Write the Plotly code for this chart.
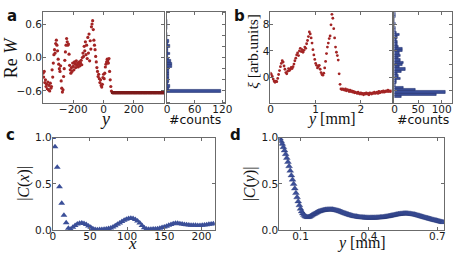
import numpy as np
import plotly.graph_objects as go

W, H = 463, 259

# ---------------- panel a data ----------------
a_x = list(range(-400, 56, 4))
a_y = [
    -0.28, -0.35, -0.25, -0.45, -0.40, -0.52, -0.48, -0.56, -0.44, -0.58,
    -0.50, -0.60, -0.46, -0.55, -0.52, -0.22, -0.35, -0.10, 0.05, 0.14,
    0.08, 0.25, 0.31, 0.22, 0.12, -0.03, -0.12, -0.20, -0.25, -0.15,
    -0.42, -0.55, -0.62, -0.58, -0.34, -0.20, -0.05, 0.10, 0.22, 0.34,
    0.28, 0.22, 0.24, 0.06, -0.14, -0.22, -0.28, -0.18, -0.25, -0.10,
    -0.16, -0.22, -0.08, -0.12, -0.18, -0.06, -0.14, -0.10, -0.17, -0.12,
    -0.08, -0.15, -0.10, -0.05, -0.13, 0.00, 0.08, 0.02, 0.20, 0.12,
    0.28, 0.05, 0.22, -0.02, 0.36, 0.08, 0.42, -0.06, 0.30, 0.15,
    0.55, 0.60, 0.66, 0.50, 0.31, 0.22, 0.14, 0.02, -0.08, -0.18,
    -0.25, -0.34, -0.30, -0.38, -0.45, -0.40, -0.50, -0.53, -0.48, -0.36,
    -0.30, -0.38, -0.28, -0.17, -0.12, -0.08, -0.03, -0.06, -0.10, -0.02,
    -0.25, -0.40, -0.52, -0.60,
]
a_tail_x = list(range(58, 401, 3))
a_tail_level = -0.63
a_tail_y = [a_tail_level] * len(a_tail_x)

a_xticks = [-200, 0, 200]
a_xticktext = ["\u2212200", "0", "200"]
a_yticks = [-0.6, 0.0, 0.6]
a_yticktext = ["\u22120.6", "0.0", "0.6"]
a_hist_ticks = [0, 60, 120]

# ---------------- panel b data ----------------
b_x = [round(0.02 * i, 2) for i in range(135)]
b_y = [
    0.6, 0.4, 0.1, -0.3, -0.6, -0.8, -0.6, -0.7, -0.2, 0.4,
    1.0, 1.6, 2.1, 2.5, 2.3, 1.7, 1.2, 0.7, 0.5, 0.9,
    1.3, 1.0, 1.2, 1.5, 1.3, 1.6, 2.0, 2.5, 2.9, 3.4,
    3.7, 3.3, 4.0, 4.4, 3.9, 4.2, 3.8, 4.1, 4.6, 4.4,
    5.1, 5.6, 6.2, 6.9, 6.6, 6.0, 5.2, 4.2, 3.4, 2.7,
    2.1, 1.8, 1.4, 1.6, 1.8, 1.2, 0.7, 0.4, 0.3, 0.6,
    1.4, 2.4, 3.6, 4.6, 5.2, 5.9, 6.3, 8.0, 9.6, 9.0,
    7.4, 6.0, 4.6, 3.8, 3.3, 2.6, 0.5, -1.1, -1.8, -1.9,
    -1.8, -1.9, -2.0, -1.8, -2.1, -1.9, -2.0, -2.2, -2.0, -2.2,
    -2.1, -2.3, -2.2, -2.4, -2.3, -2.4, -2.5, -2.3, -2.5, -2.6,
    -2.4, -2.6, -2.5, -2.7, -2.5, -2.6, -2.4, -2.6, -2.5, -2.7,
    -2.4, -2.5, -2.6, -2.4, -2.5, -2.3, -2.5, -2.4, -2.3, -2.5,
    -2.2, -2.4, -2.3, -2.2, -2.3, -2.1, -2.3, -2.2, -2.1, -2.2,
    -2.0, -2.2, -2.1, -2.2, -2.1,
]
b_hist_centers = [9.6, 9.25, 8.9, 8.55, 8.2, 7.85, 7.5, 7.15, 6.8, 6.45,
                  6.1, 5.75, 5.4, 5.05, 4.7, 4.35, 4.0, 3.65, 3.3, 2.95,
                  2.6, 2.25, 1.9, 1.55, 1.2, 0.85, 0.5, 0.15, -0.2, -0.55,
                  -0.9, -1.25, -1.6, -1.95, -2.3, -2.65, -3.0]
b_hist_counts = [2, 2, 1, 1, 2, 1, 2, 3, 5, 10,
                 6, 4, 6, 7, 8, 17, 16, 10, 13, 8,
                 12, 20, 16, 10, 23, 14, 6, 9, 12, 5,
                 4, 3, 20, 44, 107, 88, 14]
b_xticks = [0, 1, 2]
b_yticks = [0, 4, 8]
b_hist_ticks = [0, 50, 100]

# ---------------- panel c data ----------------
c_x = list(range(0, 217, 3))
c_y = [
    1.00, 0.90, 0.68, 0.47, 0.29, 0.16, 0.08, 0.02, 0.01, 0.03,
    0.05, 0.065, 0.075, 0.078, 0.072, 0.06, 0.045, 0.03, 0.015, 0.008,
    0.005, 0.006, 0.008, 0.01, 0.013, 0.017, 0.024, 0.034, 0.048, 0.063,
    0.078, 0.093, 0.107, 0.118, 0.125, 0.128, 0.125, 0.115, 0.098, 0.076,
    0.05, 0.025, 0.012, 0.009, 0.009, 0.011, 0.013, 0.016, 0.021, 0.027,
    0.034, 0.042, 0.052, 0.062, 0.07, 0.074, 0.073, 0.07, 0.066, 0.062,
    0.058, 0.055, 0.053, 0.052, 0.052, 0.051, 0.051, 0.052, 0.055, 0.059,
    0.063, 0.067, 0.068,
]
c_xticks = [0, 50, 100, 150, 200]
c_yticks = [0.0, 0.5, 1.0]
c_yticktext = ["0.0", "0.5", "1.0"]

# ---------------- panel d data ----------------
d_x = [round(0.010 + 0.005 * i, 3) for i in range(144)]
d_y = [
    0.990, 0.962, 0.932, 0.897, 0.860, 0.821, 0.780, 0.736, 0.690, 0.641,
    0.591, 0.545, 0.498, 0.449, 0.400, 0.354, 0.310, 0.268, 0.230, 0.202,
    0.180, 0.163, 0.151, 0.144, 0.140, 0.141, 0.145, 0.152, 0.160, 0.168,
    0.175, 0.182, 0.189, 0.195, 0.200, 0.205, 0.209, 0.212, 0.215, 0.218,
    0.220, 0.221, 0.222, 0.223, 0.223, 0.222, 0.222, 0.220, 0.218, 0.215,
    0.212, 0.208, 0.204, 0.200, 0.195, 0.191, 0.186, 0.181, 0.177, 0.172,
    0.168, 0.164, 0.160, 0.157, 0.153, 0.150, 0.148, 0.146, 0.144, 0.142,
    0.140, 0.139, 0.138, 0.137, 0.136, 0.135, 0.135, 0.134, 0.134, 0.134,
    0.134, 0.134, 0.134, 0.135, 0.135, 0.136, 0.136, 0.137, 0.138, 0.139,
    0.140, 0.142, 0.144, 0.146, 0.147, 0.150, 0.152, 0.155, 0.157, 0.160,
    0.163, 0.166, 0.168, 0.170, 0.173, 0.175, 0.176, 0.178, 0.179, 0.180,
    0.180, 0.180, 0.179, 0.178, 0.177, 0.175, 0.172, 0.170, 0.168, 0.165,
    0.162, 0.158, 0.155, 0.151, 0.147, 0.144, 0.140, 0.137, 0.133, 0.130,
    0.126, 0.123, 0.120, 0.116, 0.113, 0.110, 0.106, 0.103, 0.100, 0.097,
    0.094, 0.091, 0.088, 0.085,
]
d_xticks = [0.1, 0.4, 0.7]
d_xticktext = ["0.1", "0.4", "0.7"]
d_yticks = [0.0, 0.5, 1.0]
d_yticktext = ["0.0", "0.5", "1.0"]

# ---------------- styles ----------------
RED = "#a32424"
RED_DARK = "#7c1c1c"
BLUE = "#3b4f98"
BLUE_EDGE = "#22306e"
SPINE = "#6b6b6b"
TICKFONT = dict(family="DejaVu Sans", size=10.5, color="#1a1a1a")
SERIF = "Liberation Serif"


def dx(p0, p1):
    return [p0 / W, p1 / W]


def dy(top, bottom):
    return [1 - bottom / H, 1 - top / H]


fig = go.Figure()

# panel a
fig.add_trace(go.Scatter(x=a_x, y=a_y, mode="markers",
                         marker=dict(size=3.2, color=RED), xaxis="x", yaxis="y"))
fig.add_trace(go.Scatter(x=a_tail_x, y=a_tail_y, mode="markers",
                         marker=dict(size=3.2, color=RED_DARK), xaxis="x", yaxis="y"))
fig.add_trace(go.Histogram(y=a_y + a_tail_y, orientation="h",
                           ybins=dict(start=-0.855, end=0.855, size=0.045),
                           marker=dict(color=BLUE, line=dict(color=BLUE_EDGE, width=0.6)),
                           xaxis="x2", yaxis="y2"))
# panel b
fig.add_trace(go.Scatter(x=b_x, y=b_y, mode="markers",
                         marker=dict(size=2.8, color=RED), xaxis="x3", yaxis="y3"))
fig.add_trace(go.Bar(y=b_hist_centers, x=b_hist_counts, orientation="h", width=0.35,
                     marker=dict(color=BLUE, line=dict(color=BLUE_EDGE, width=0.6)),
                     xaxis="x4", yaxis="y4"))
# panel c
fig.add_trace(go.Scatter(x=c_x, y=c_y, mode="markers",
                         marker=dict(symbol="triangle-up", size=6, color=BLUE),
                         xaxis="x5", yaxis="y5"))
# panel d
fig.add_trace(go.Scatter(x=d_x, y=d_y, mode="markers",
                         marker=dict(symbol="triangle-up", size=6, color=BLUE,
                                     line=dict(color=BLUE_EDGE, width=0.3)),
                         xaxis="x6", yaxis="y6"))

base = dict(showline=True, linecolor=SPINE, linewidth=1, mirror="allticks",
            ticks="inside", ticklen=3, tickcolor=SPINE, tickwidth=1,
            showgrid=False, zeroline=False, tickfont=TICKFONT, fixedrange=True,
            ticklabeloverflow="allow")
xbase = dict(base, ticklabelstandoff=-4)
ybase = dict(base, ticklabelstandoff=-2)

top_dom = dy(6, 102)
bot_dom = dy(138, 235)

fig.update_layout(
    width=W, height=H, margin=dict(l=0, r=0, t=0, b=0),
    paper_bgcolor="white", plot_bgcolor="white", showlegend=False,
    bargap=0,
    xaxis=dict(xbase, domain=dx(41, 165), range=[-400, 400], tickvals=a_xticks,
               ticktext=a_xticktext, anchor="y"),
    yaxis=dict(ybase, domain=top_dom, range=[-0.82, 0.82], tickvals=a_yticks,
               ticktext=a_yticktext, anchor="x"),
    xaxis2=dict(xbase, domain=dx(168, 227), range=[0, 125], tickvals=a_hist_ticks, anchor="y2"),
    yaxis2=dict(ybase, domain=top_dom, range=[-0.82, 0.82], dtick=0.2,
                showticklabels=False, anchor="x2"),
    xaxis3=dict(xbase, domain=dx(274, 398), range=[0, 2.68], tickvals=b_xticks, anchor="y3"),
    yaxis3=dict(ybase, domain=top_dom, range=[-4, 10], tickvals=b_yticks, anchor="x3"),
    xaxis4=dict(xbase, domain=dx(401, 460), range=[0, 122], tickvals=b_hist_ticks, anchor="y4"),
    yaxis4=dict(ybase, domain=top_dom, range=[-4, 10], dtick=2,
                showticklabels=False, anchor="x4"),
    xaxis5=dict(xbase, domain=dx(51, 217), range=[0, 218], tickvals=c_xticks, anchor="y5"),
    yaxis5=dict(ybase, domain=bot_dom, range=[0, 1.0], tickvals=c_yticks,
                ticktext=c_yticktext, anchor="x5"),
    xaxis6=dict(xbase, domain=dx(283, 452), range=[0.007, 0.73], tickvals=d_xticks,
                ticktext=d_xticktext, anchor="y6"),
    yaxis6=dict(ybase, domain=bot_dom, range=[0, 1.0], tickvals=d_yticks,
                ticktext=d_yticktext, anchor="x6"),
)


def note(text, x, y, size=16, family=SERIF, angle=0, bold=False):
    fig.add_annotation(text=f"<b>{text}</b>" if bold else text,
                       x=x / W, y=1 - y / H, xref="paper", yref="paper",
                       showarrow=False, textangle=angle,
                       font=dict(family=family, size=size, color="#111111"),
                       xanchor="center", yanchor="middle")


# panel letters
note("a", 9, 11, size=15, family="DejaVu Sans", bold=True)
note("b", 242, 10, size=15, family="DejaVu Sans", bold=True)
note("c", 8, 135, size=15, family="DejaVu Sans", bold=True)
note("d", 238, 135, size=15, family="DejaVu Sans", bold=True)

# axis titles
note("Re <i>W</i>", 9, 54, size=18, angle=-90)
note("<i>y</i>", 104, 119, size=18)
note("#counts", 197, 119, size=12.5, family="DejaVu Sans")
note("<i>ξ</i> [arb.units]", 256, 47, size=15.5, angle=-90)
note("<i>y</i> [mm]", 336, 119, size=16)
note("#counts", 430, 119, size=12.5, family="DejaVu Sans")
note("|<i>C</i>(<i>x</i>)|", 22, 186, size=16, angle=-90)
note("<i>x</i>", 133, 249, size=17)
note("|<i>C</i>(<i>y</i>)|", 253, 186, size=16, angle=-90)
note("<i>y</i> [mm]", 367, 249, size=16)

fig.write_html("out.html",
               config={"displayModeBar": False},
               post_script="document.body.style.margin='0';"
                           "document.body.style.overflow='hidden';")
